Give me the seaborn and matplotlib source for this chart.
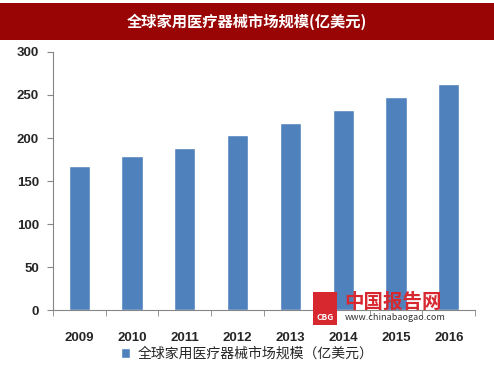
import matplotlib
matplotlib.use("Agg")
import matplotlib.pyplot as plt
import seaborn as sns
import pandas as pd
from matplotlib.patches import Rectangle, Patch

years = ["2009", "2010", "2011", "2012", "2013", "2014", "2015", "2016"]
market_size = [168, 179, 188, 204, 218, 233, 248, 263]
title = "全球家用医疗器械市场规模(亿美元)"
legend_label = "全球家用医疗器械市场规模（亿美元）"

sns.set_style("white")
plt.rcParams['font.family'] = ['Noto Sans CJK SC', 'DejaVu Sans']

df = pd.DataFrame({"year": years, "size": market_size})
bar_color = "#4F81BD"

fig = plt.figure(figsize=(4.94, 3.71), dpi=100)
ax = fig.add_axes([0.107, 0.164, 0.855, 0.696])

sns.barplot(data=df, x="year", y="size", color=bar_color, width=0.4,
            saturation=1, ax=ax)

ax.set_ylim(0, 300)
ax.set_xlim(-0.5, len(years) - 0.5)
ax.set_yticks(range(0, 301, 50))
ax.set_xlabel("")
ax.set_ylabel("")
sns.despine(ax=ax)
for s in ["left", "bottom"]:
    ax.spines[s].set_color("#868686")
ax.tick_params(axis="y", left=True, length=4, color="#868686", labelsize=9.5, pad=6)
ax.tick_params(axis="x", which="major", length=0, labelsize=9.5, pad=16)
ax.set_xticks([i - 0.5 for i in range(len(years) + 1)], minor=True)
ax.tick_params(axis="x", which="minor", bottom=True, length=4, color="#868686")
for lab in ax.get_xticklabels() + ax.get_yticklabels():
    lab.set_fontweight("bold")
    lab.set_family(["Liberation Sans", "DejaVu Sans"])

# red title bar
fig.patches.append(Rectangle((0, 0.892), 1, 0.1, transform=fig.transFigure,
                             facecolor="#990404", edgecolor="none", zorder=0))
fig.text(0.5, 0.942, title, color="white", fontsize=11, fontweight="bold",
         ha="center", va="center")

fig.legend(handles=[Patch(facecolor=bar_color, label=legend_label)],
           loc="center", bbox_to_anchor=(0.5, 0.046), frameon=False,
           fontsize=10, handlelength=0.7, handleheight=0.7, handletextpad=0.5)

# watermark logo
fig.patches.append(Rectangle((0.634, 0.124), 0.049, 0.089, transform=fig.transFigure,
                             facecolor="#D7282F", edgecolor="none", zorder=5))
fig.text(0.658, 0.145, "CBG", color="white", fontsize=6, fontweight="bold",
         ha="center", va="center", zorder=6)
fig.text(0.796, 0.186, "中国报告网", color="#D7282F", fontsize=14,
         fontweight="bold", ha="center", va="center", zorder=6)
fig.text(0.80, 0.143, "www.chinabaogao.com", color="#333333", fontsize=6.5,
         ha="center", va="center", zorder=6)

fig.savefig("out.png", dpi=100)
